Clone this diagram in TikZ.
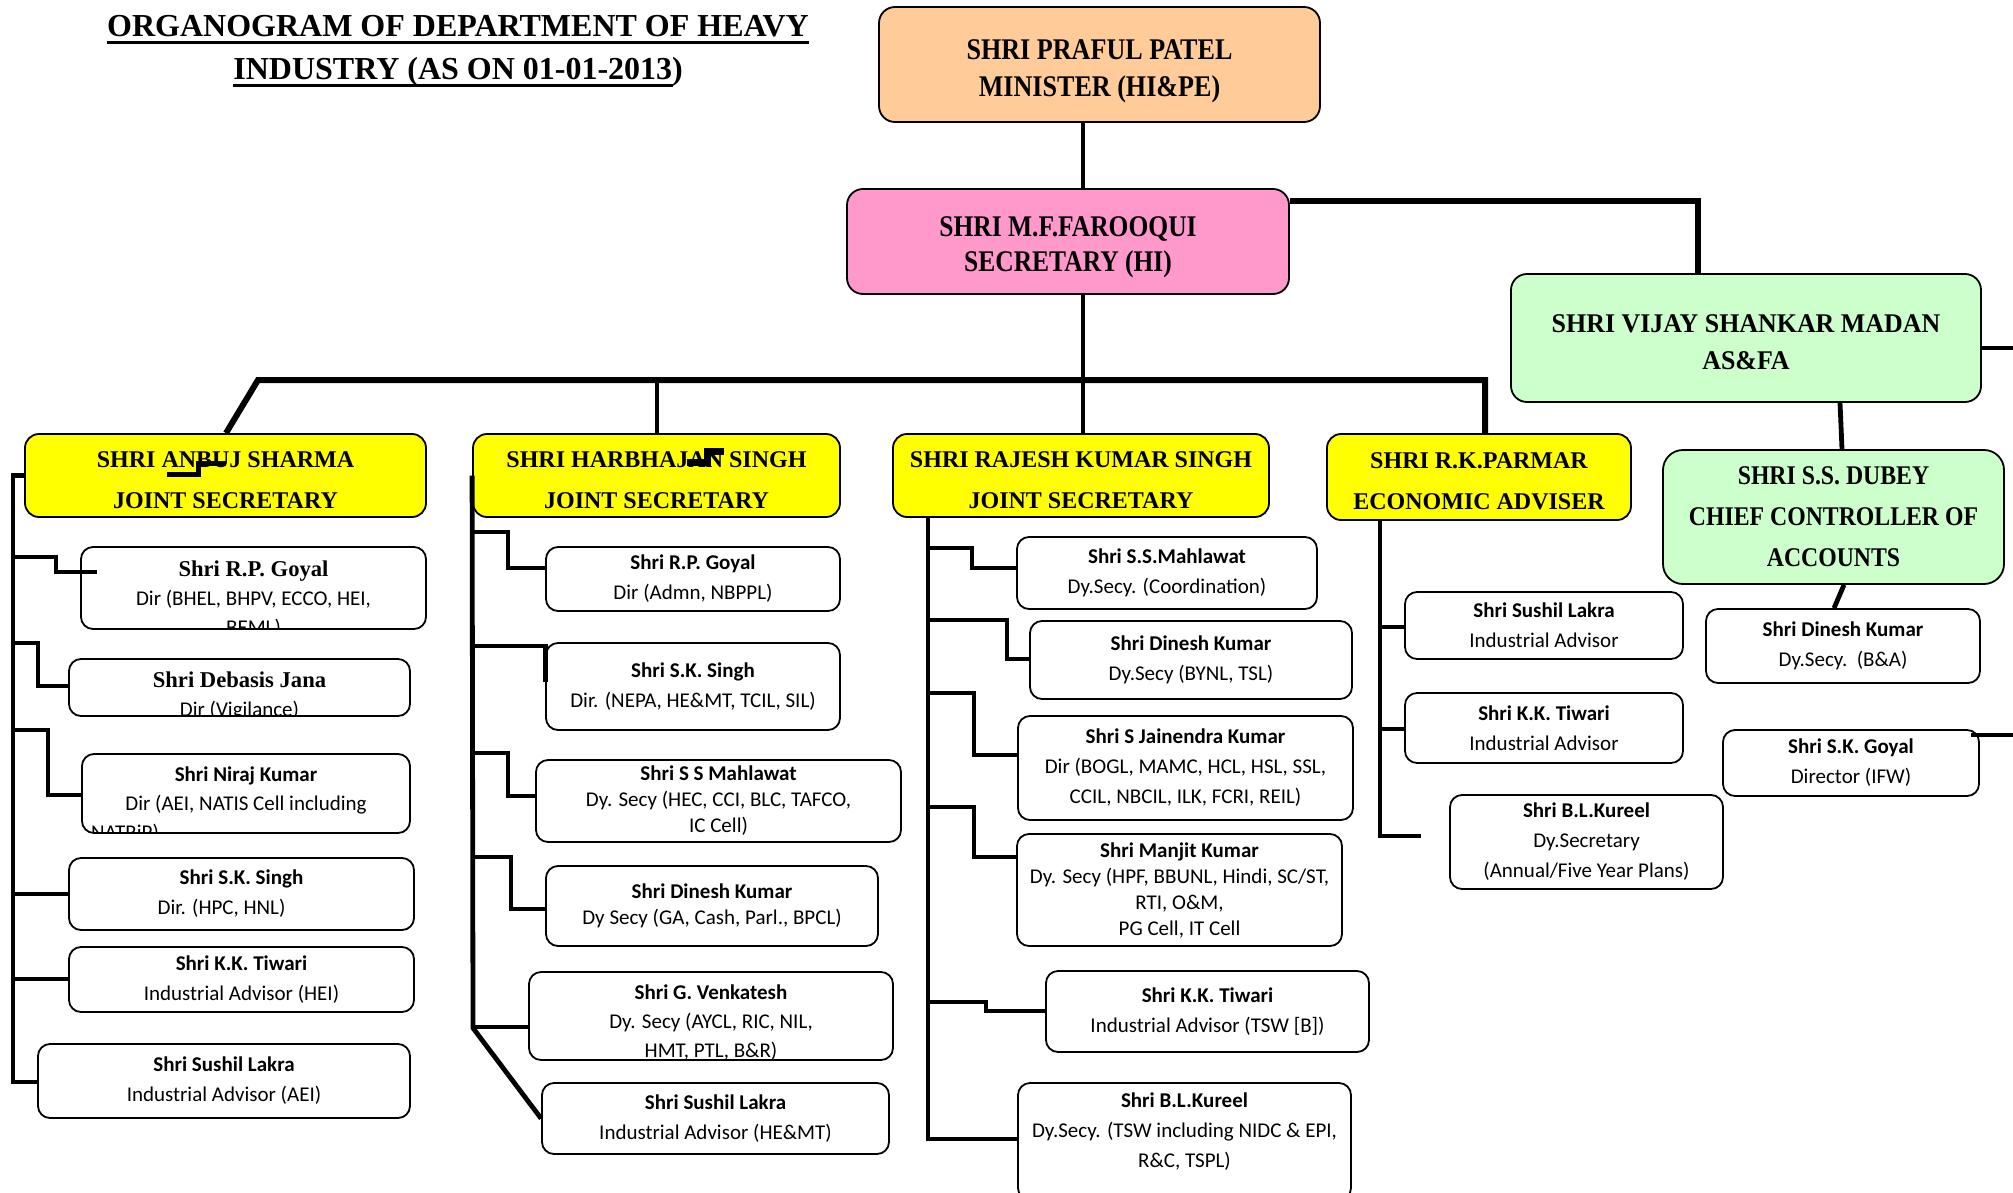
\documentclass[tikz,border=0pt]{standalone}
\usepackage{fontspec}
\setmainfont{Liberation Serif}
\newfontfamily\calib{Carlito}
\usepackage{graphicx}
\usetikzlibrary{calc}
\definecolor{minc}{HTML}{FFCC99}
\definecolor{secc}{HTML}{FF99CC}
\definecolor{grc}{HTML}{CCFFCC}
\definecolor{yelc}{HTML}{FFFF00}
\tikzset{
 basebox/.style={draw=black, line width=0.9pt, inner sep=0pt, align=center},
 topbox/.style={basebox, rounded corners=8pt},
 jsbox/.style={basebox, rounded corners=7pt, fill=yelc, font=\bfseries\fontsize{12}{20.5}\selectfont},
 sub/.style={basebox, rounded corners=6pt, fill=white, font=\calib\fontsize{10.5}{15}\selectfont},
 conn/.style={line width=2.4pt},
 bus/.style={line width=3pt},
 ttl/.style={font=\bfseries\fontsize{16}{19}\selectfont, inner sep=0pt, anchor=base},
}
\newcommand\cnd[2]{\scalebox{#1}[1]{#2}}
\newcommand\obox[7]{\node[#1, minimum width={(#5-#3)*0.5pt}, minimum height={(#6-#4)*0.5pt}] (#2) at ({(#3+#5)/2},{(#4+#6)/2}) {#7};}
\newcommand\cbox[8]{\node[#1, minimum width={(#5-#3)*0.5pt}, minimum height={(#6-#4)*0.5pt}, path picture={\node[anchor=north, inner sep=0pt, align=center, font=\calib\fontsize{10.5}{14.5}\selectfont] at ([yshift=-#7pt]path picture bounding box.north) {#8};}] (#2) at ({(#3+#5)/2},{(#4+#6)/2}) {};}
\begin{document}
\begin{tikzpicture}[x=0.5pt,y=-0.5pt]
\useasboundingbox (0,0) rectangle (2013,1193);
% title
\node[ttl] (t1) at (458,37) {ORGANOGRAM OF DEPARTMENT OF HEAVY};
\node[ttl, anchor=base west] (t2) at (233,80) {INDUSTRY (AS ON 01-01-2013\rlap{)}};
\draw[line width=1.4pt] ([yshift=-2.6pt]t1.base west) -- ([yshift=-2.6pt]t1.base east);
\draw[line width=1.4pt] ([yshift=-2.6pt]t2.base west) -- ([yshift=-2.6pt]t2.base east);
% top boxes
\obox{topbox, fill=minc, font=\bfseries\fontsize{15}{18.5}\selectfont}{min}{879}{7}{1320}{122}{\rule{0pt}{16.5pt}\cnd{0.87}{SHRI PRAFUL PATEL}\\\cnd{0.87}{MINISTER (HI\&PE)}}
\obox{topbox, fill=secc, font=\bfseries\fontsize{15}{17.5}\selectfont}{sec}{847}{189}{1289}{294}{\rule{0pt}{15.5pt}\cnd{0.85}{SHRI M.F.FAROOQUI}\\\cnd{0.85}{SECRETARY (HI)}}
\obox{topbox, fill=grc, font=\bfseries\fontsize{13.5}{18.5}\selectfont}{asfa}{1511}{274}{1981}{402}{\rule{0pt}{13pt}\cnd{0.96}{SHRI VIJAY SHANKAR MADAN}\\\cnd{0.96}{AS\&FA}}
\obox{topbox, fill=grc, rounded corners=10pt, font=\bfseries\fontsize{13.5}{20.5}\selectfont}{dubey}{1663}{450}{2004}{584}{\cnd{0.88}{SHRI S.S. DUBEY}\\\cnd{0.88}{CHIEF CONTROLLER OF}\\\cnd{0.88}{ACCOUNTS}}
% joint secretaries
\obox{jsbox}{ajs}{25}{434}{426}{517}{\rule{0pt}{13pt}SHRI ANBUJ SHARMA\\JOINT SECRETARY}
\obox{jsbox}{hjs}{473}{434}{840}{517}{\rule{0pt}{13pt}SHRI HARBHAJAN SINGH\\JOINT SECRETARY}
\obox{jsbox}{rks}{893}{434}{1269}{517}{\rule{0pt}{13pt}SHRI RAJESH KUMAR SINGH\\JOINT SECRETARY}
\obox{jsbox}{par}{1327}{434}{1631}{520}{\rule{0pt}{12pt}SHRI R.K.PARMAR\\ECONOMIC ADVISER}
% left column
\cbox{sub}{rpg1}{81}{547}{426}{629}{5}{\rmfamily\fontsize{10.6}{14}\selectfont{\bfseries\fontsize{11.3}{14}\selectfont Shri R.P. Goyal}\\Dir (BHEL, BHPV, ECCO, HEI,\\BEML)}
\cbox{sub}{dj}{69}{659}{410}{716}{4}{{\rmfamily\bfseries\fontsize{11.3}{14}\selectfont Shri Debasis Jana}\\Dir (Vigilance)}
\cbox{sub}{nk}{82}{754}{410}{833}{5}{\textbf{Shri Niraj Kumar}\\Dir (AEI, NATIS Cell including\hspace*{26pt}\\NATRiP)\hspace*{121pt}}
\obox{sub}{sks1}{69}{858}{414}{930}{\textbf{Shri S.K. Singh}\\Dir. (HPC, HNL)\hspace*{20pt}}
\obox{sub}{kkt1}{69}{947}{414}{1012}{\textbf{Shri K.K. Tiwari}\\Industrial Advisor (HEI)}
\obox{sub}{sl1}{38}{1044}{410}{1118}{\textbf{Shri Sushil Lakra}\\Industrial Advisor (AEI)}
% Harbhajan column
\obox{sub}{rpg2}{546}{547}{840}{611}{\textbf{Shri R.P. Goyal}\\Dir (Admn, NBPPL)}
\obox{sub}{skh}{546}{643}{840}{730}{\textbf{Shri S.K. Singh}\\Dir. (NEPA, HE\&MT, TCIL, SIL)}
\obox{sub, font=\calib\fontsize{10.5}{13}\selectfont}{ssm}{536}{760}{901}{842}{\textbf{Shri S S Mahlawat}\\Dy. Secy (HEC, CCI, BLC, TAFCO,\\IC Cell)}
\obox{sub, font=\calib\fontsize{10.5}{13}\selectfont}{dkh}{546}{866}{878}{946}{\textbf{Shri Dinesh Kumar}\\Dy Secy (GA, Cash, Parl., BPCL)}
\cbox{sub}{gv}{529}{972}{893}{1060}{3}{\textbf{Shri G. Venkatesh}\\Dy. Secy (AYCL, RIC, NIL,\\HMT, PTL, B\&R)}
\obox{sub}{slh}{542}{1083}{889}{1154}{\textbf{Shri Sushil Lakra}\\Industrial Advisor (HE\&MT)}
% RKS column
\obox{sub}{ssmc}{1017}{537}{1317}{609}{\textbf{Shri S.S.Mahlawat}\\Dy.Secy. (Coordination)}
\obox{sub}{dkb}{1030}{621}{1352}{699}{\textbf{Shri Dinesh Kumar}\\Dy.Secy (BYNL, TSL)}
\obox{sub}{sjk}{1018}{716}{1353}{820}{\textbf{Shri S Jainendra Kumar}\\Dir (BOGL, MAMC, HCL, HSL, SSL,\\CCIL, NBCIL, ILK, FCRI, REIL)}
\obox{sub, font=\calib\fontsize{10.5}{13}\selectfont}{mk}{1017}{834}{1342}{946}{\textbf{Shri Manjit Kumar}\\Dy. Secy (HPF, BBUNL, Hindi, SC/ST,\\RTI, O\&M,\\PG Cell, IT Cell}
\obox{sub}{kkt3}{1046}{971}{1369}{1052}{\textbf{Shri K.K. Tiwari}\\Industrial Advisor (TSW [B])}
\obox{sub}{blk}{1018}{1083}{1351}{1200}{\textbf{Shri B.L.Kureel}\\Dy.Secy. (TSW including NIDC \& EPI,\\R\&C, TSPL)\rule[-11pt]{0pt}{11pt}}
% Parmar column
\obox{sub}{slp}{1405}{592}{1683}{659}{\textbf{Shri Sushil Lakra}\\Industrial Advisor}
\obox{sub}{kkp}{1405}{693}{1683}{763}{\textbf{Shri K.K. Tiwari}\\Industrial Advisor}
\obox{sub}{blkp}{1450}{795}{1723}{889}{\textbf{Shri B.L.Kureel}\\Dy.Secretary\\(Annual/Five Year Plans)}
% Dubey column
\obox{sub}{dkba}{1706}{609}{1980}{683}{\textbf{Shri Dinesh Kumar}\\Dy.Secy.~~(B\&A)}
\obox{sub}{skg}{1723}{730}{1979}{796}{\textbf{Shri S.K. Goyal}\\Director (IFW)}
% connectors
\coordinate (redge1) at (2013,348);
\coordinate (redge2) at (2013,735);
\coordinate (pend) at (1421,836);
\draw[conn, line width=2.2pt] (min.south -| 1083,0) -- (sec.north -| 1083,0);
\draw[conn] (sec.south -| 1083,0) -- (rks.north -| 1083,0);
\draw[bus] (ajs.north -| 226,0) -- (258,380) -- (1485,380) -- (par.north -| 1485,0);
\draw[conn] (657,380) -- (hjs.north -| 657,0);
\draw[bus] (sec.east |- 0,201) -| (asfa.north -| 1698,0);
\draw[conn] (asfa.east |- 0,348) -- (redge1);
\draw[conn] (asfa.south -| 1840,0) -- (dubey.north -| 1842,0);
\draw[conn] (dubey.south -| 1844,0) -- (dkba.north -| 1834,0);
\draw[conn] ($(skg.east |- 0,735)+(-9,0)$) -- (redge2);
% left spine
\draw[conn] (ajs.west) -- (13,475.5) -- (13,1082) -- (sl1.west |- 0,1082);
\draw[conn] (13,557) -| (56,572) -- ($(rpg1.west |- 0,572)+(17,0)$);
\draw[conn] (13,643) -| (38,686) -- (dj.west |- 0,686);
\draw[conn] (13,730) -| (48,795) -- (nk.west |- 0,795);
\draw[conn] (13,894) -- (sks1.west |- 0,894);
\draw[conn] (13,979) -- (kkt1.west |- 0,979);
% Harbhajan spine
\draw[conn] (hjs.west) -- (473,1028) -- (slh.west);
\draw[conn] (473,532) -| (508,568) -- (rpg2.west |- 0,568);
\draw[conn] (473,646) -| (skh.west |- 0,682);
\draw[conn] (473,753) -| (508,796) -- (ssm.west |- 0,796);
\draw[conn] (473,857) -| (511,909) -- (dkh.west |- 0,909);
\draw[conn] (473,1027) -- (gv.west |- 0,1027);
% RKS spine
\draw[conn] (rks.south -| 928,0) -- (928,1139) -- (blk.west |- 0,1139);
\draw[conn] (928,548) -| (972,568) -- (ssmc.west |- 0,568);
\draw[conn] (928,620) -| (1007,659) -- (dkb.west |- 0,659);
\draw[conn] (928,693) -| (974,755) -- (sjk.west |- 0,755);
\draw[conn] (928,807) -| (974,857) -- (mk.west |- 0,857);
\draw[conn] (928,1002) -| (986,1011) -- (kkt3.west |- 0,1011);
% Parmar spine
\draw[conn] (par.south -| 1380,0) -- (1380,836) -- (pend);
\draw[conn] (1380,627) -- (slp.west |- 0,627);
\draw[conn] (1380,729) -- (kkp.west |- 0,729);
% stray marks over names
\draw[line width=2.5pt] (167,474) -- (198,474) -- (198,463) -- (226,463);
\draw[line width=3.5pt] (687,462) -- (707,462) -- (707,451) -- (724,451);
\end{tikzpicture}
\end{document}
